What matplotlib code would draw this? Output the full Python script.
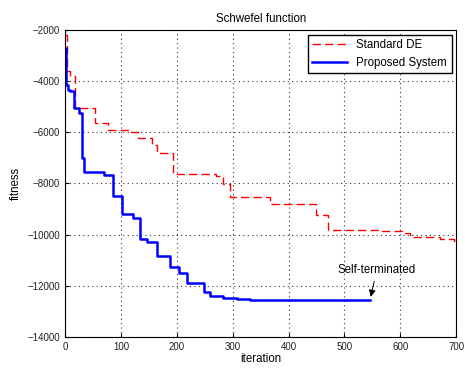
import matplotlib
matplotlib.use('Agg')
import matplotlib.pyplot as plt

plt.rcParams['font.family'] = ['Liberation Sans', 'DejaVu Sans']

# Standard DE (stepwise best fitness)
de_iter = [0, 3, 8, 18, 54, 77, 118, 131, 155, 165, 194, 271, 283, 295,
           367, 449, 470, 567, 603, 618, 671, 696, 700]
de_fit = [-2200, -3600, -3820, -5040, -5620, -5910, -6000, -6230, -6500, -6820,
          -7640, -7720, -8030, -8550, -8800, -9230, -9840, -9860, -9920,
          -10080, -10160, -10270, -10270]

# Proposed System
ps_iter = [0, 2, 5, 9, 16, 24, 30, 33, 70, 86, 101, 122, 134, 147, 164, 188,
           203, 218, 248, 260, 283, 307, 331, 546]
ps_fit = [-2700, -4150, -4350, -4400, -5060, -5230, -7020, -7540, -7670, -8510,
          -9200, -9360, -10180, -10300, -10840, -11250, -11490, -11900, -12230,
          -12390, -12470, -12520, -12560, -12560]

x_ticks = [0, 100, 200, 300, 400, 500, 600, 700]
y_ticks = [-14000, -12000, -10000, -8000, -6000, -4000, -2000]

fig = plt.figure(figsize=(4.65, 3.69), dpi=100)
ax = fig.add_axes([0.14, 0.087, 0.841, 0.832])

ax.plot(de_iter, de_fit, color='red', linestyle=(0, (6, 3)), linewidth=1,
        drawstyle='steps-post', label='Standard DE')
ax.plot(ps_iter, ps_fit, color='blue', linewidth=1.8,
        drawstyle='steps-post', label='Proposed System')

ax.annotate('Self-terminated', xy=(546, -12540), xytext=(558, -11380),
            ha='center', va='center', fontsize=8.3,
            arrowprops=dict(arrowstyle='-|>', color='black', lw=0.7,
                            mutation_scale=10))

ax.set_xlim(0, 700)
ax.set_ylim(-14000, -2000)
ax.set_xticks(x_ticks)
ax.set_yticks(y_ticks)
ax.tick_params(direction='in', labelsize=7, length=3, labelcolor='#222222')
ax.grid(True, linestyle=(0, (1, 3)), color='#333333', linewidth=0.8)
ax.set_xlabel('iteration', fontsize=8.3, labelpad=1)
ax.set_ylabel('fitness', fontsize=8.3, labelpad=4)
ax.set_title('Schwefel function', fontsize=8.3, pad=6)
ax.legend(loc='upper right', fontsize=8.3, fancybox=False, edgecolor='black',
          framealpha=1, handlelength=3.0, borderaxespad=0.4)

fig.savefig('out.png', dpi=100)
